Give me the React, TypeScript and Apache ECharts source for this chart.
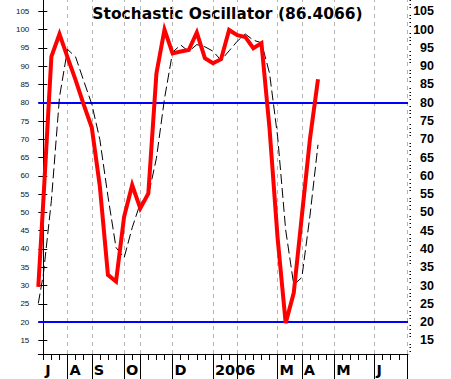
import React, { useEffect, useRef } from "react";
import * as echarts from "echarts";

// Week positions: the first sample sits at the left edge of the plot (week -0.62)
const weeks = [
  -0.62, 0, 1, 2, 3, 4, 5, 6, 7, 8, 9, 10, 11, 12, 13, 14, 15, 16, 17, 18, 19, 20,
  21, 22, 23, 24, 25, 26, 27, 28, 29, 30, 31, 32, 33, 34,
];
// Weekly stochastic %K (thick red)
const stochK = [
  29.6, 53, 92.6, 98.8, 92.4, 86.2, 79.5, 73.2, 57.1, 32.9, 31.1, 48.8, 57.5, 51.1,
  55.2, 88, 100, 93.5, 94, 94.4, 99.2, 92.2, 90.8, 91.9, 99.9, 98.5, 98, 94.9,
  96.3, 73, 43, 19.7, 28, 49, 70, 86.4066,
];
// %D signal (thin black dashed)
const stochD = [
  25.1, 33, 53.2, 81.5, 94.6, 92.5, 86.0, 79.6, 69.9, 54.4, 40.4, 37.6, 45.8, 52.5,
  54.6, 64.8, 81.1, 93.8, 95.8, 94.0, 95.9, 95.3, 94.1, 91.6, 94.2, 96.8, 98.8,
  97.1, 96.4, 88.1, 70.8, 45.2, 30.2, 32.2, 49, 68.5,
];
const levels = [80, 20];
const yTicks = [15, 20, 25, 30, 35, 40, 45, 50, 55, 60, 65, 70, 75, 80, 85, 90, 95, 100, 105];
const monthBounds = [3, 6, 10, 12, 16, 21, 24, 29, 32, 36, 41, 45];
const monthLabelIdx = [0, 3, 6, 10, 16, 21, 29, 32, 36, 41];
const monthLabels = ["J", "A", "S", "O", "D", "2006", "M", "A", "M", "J"];
const TITLE = "Stochastic Oscillator (86.4066)";

const X_MIN = -0.62;
const X_MAX = 45.14;
const Y_MIN = 11.27;
const Y_MAX = 108.1;

export default function App() {
  const ref = useRef<HTMLDivElement>(null);
  useEffect(() => {
    if (!ref.current) return;
    const chart = echarts.init(ref.current, null, { renderer: "svg" });
    const weekTicks: number[] = [];
    for (let i = 0; i <= 45; i++) weekTicks.push(i);
    const minorTicks: number[] = [];
    for (let v = 12; v <= 108; v++) if (v % 5 !== 0) minorTicks.push(v);
    const kData = stochK.map((v, j) => [weeks[j], v]);
    const dData = stochD.map((v, j) => [weeks[j], v]);
    const black = { color: "#000", width: 1 };
    chart.setOption({
      animation: false,
      grid: { left: 38.3, right: 43, top: 0, bottom: 25, outerBoundsMode: "none" },
      graphic: [
        {
          type: "text",
          x: 227.5,
          y: 14,
          style: {
            text: TITLE,
            fontFamily: "DejaVu Sans",
            fontWeight: "bold",
            fontSize: 15.5,
            fill: "#000",
            align: "center",
            verticalAlign: "middle",
          },
        },
      ],
      xAxis: [
        {
          type: "value",
          min: X_MIN,
          max: X_MAX,
          position: "bottom",
          axisLine: { show: true, onZero: false, lineStyle: black },
          axisTick: { show: true, customValues: weekTicks, length: 6, lineStyle: black },
          axisLabel: { show: false },
          splitLine: { show: false },
        },
        {
          type: "value",
          min: X_MIN,
          max: X_MAX,
          position: "bottom",
          axisLine: { show: false, onZero: false },
          axisTick: { show: true, customValues: monthBounds, length: 25, lineStyle: black },
          axisLabel: {
            show: true,
            customValues: monthLabelIdx,
            formatter: (v: number) => monthLabels[monthLabelIdx.indexOf(v)] ?? "",
            align: "left",
            padding: [0, 0, 0, 2],
            fontFamily: "DejaVu Sans",
            fontWeight: "bold",
            fontSize: 14.5,
            color: "#000",
            margin: 8,
          },
          splitLine: { show: false },
        },
      ],
      yAxis: [
        {
          type: "value",
          min: Y_MIN,
          max: Y_MAX,
          position: "left",
          axisLine: { show: true, lineStyle: black },
          axisTick: { show: true, customValues: yTicks, length: 5, lineStyle: black },
          axisLabel: {
            customValues: yTicks,
            fontFamily: "Liberation Sans",
            fontSize: 8,
            color: "#111",
            margin: 9,
          },
          splitLine: { show: false },
        },
        {
          type: "value",
          min: Y_MIN,
          max: Y_MAX,
          position: "right",
          axisLine: { show: false },
          axisTick: { show: true, customValues: yTicks, length: 4, lineStyle: black },
          axisLabel: {
            customValues: yTicks,
            fontFamily: "Liberation Sans",
            fontWeight: "bold",
            fontSize: 12.5,
            color: "#000",
            align: "right",
            margin: 26,
          },
          splitLine: { show: false },
        },
        {
          type: "value",
          min: Y_MIN,
          max: Y_MAX,
          position: "right",
          offset: 1.5,
          axisLine: { show: false },
          axisTick: { show: true, customValues: minorTicks, length: 1.5, lineStyle: black },
          axisLabel: { show: false },
          splitLine: { show: false },
        },
      ],
      series: [
        {
          type: "line",
          name: "%D",
          data: dData,
          xAxisIndex: 0,
          yAxisIndex: 0,
          symbol: "none",
          showSymbol: false,
          z: 3,
          lineStyle: { color: "#000", width: 1, type: [10, 4] },
          markLine: {
            silent: true,
            z: 1,
            symbol: ["none", "none"],
            label: { show: false },
            lineStyle: { color: "#b4b4b4", width: 1, type: [4, 4] },
            data: monthBounds.map((x) => ({ xAxis: x })),
          },
        },
        {
          type: "line",
          name: "%K",
          data: kData,
          xAxisIndex: 0,
          yAxisIndex: 0,
          symbol: "none",
          showSymbol: false,
          z: 4,
          lineStyle: { color: "#ff0000", width: 4, join: "miter" },
          markLine: {
            silent: true,
            z: 2,
            symbol: ["none", "none"],
            label: { show: false },
            lineStyle: { color: "#0000ff", width: 2, type: "solid" },
            data: levels.map((y) => ({ yAxis: y })),
          },
        },
      ],
    });
    return () => chart.dispose();
  }, []);
  return (
    <div
      ref={ref}
      style={{ position: "fixed", left: 0, top: 0, width: 451, height: 379, background: "#fff" }}
    />
  );
}
